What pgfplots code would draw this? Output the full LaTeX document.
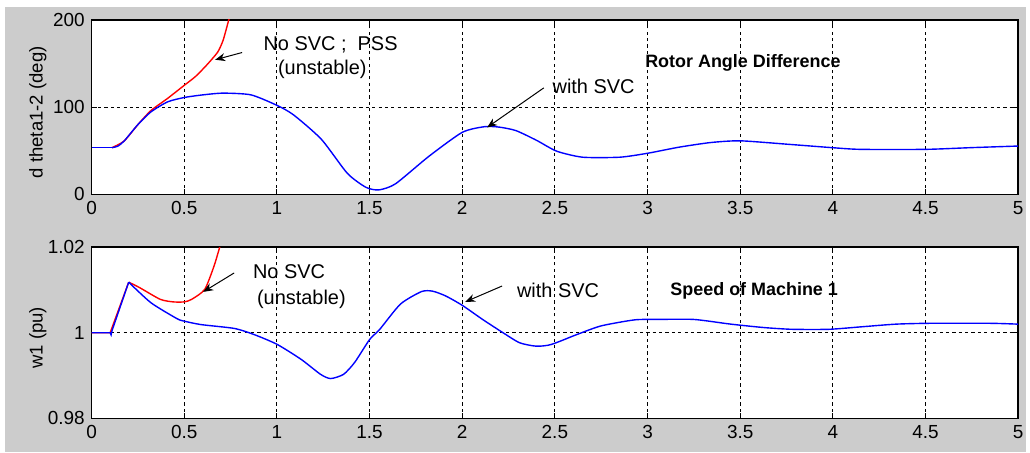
\documentclass[border=0pt]{standalone}
\usepackage{fontspec}
\setmainfont{Liberation Sans}
\usepackage{pgfplots}
\pgfplotsset{compat=1.18}
\usetikzlibrary{arrows.meta}

\definecolor{figgray}{RGB}{204,204,204}

\pgfplotsset{
  matfig/.style={
    scale only axis,
    width=465pt,
    xmin=0, xmax=5,
    xtick={0,0.5,...,5},
    xticklabels={0,0.5,1,1.5,2,2.5,3,3.5,4,4.5,5},
    tick align=inside,
    xtick pos=both, ytick pos=both,
    major tick length=2.5pt,
    tick style={black, line width=0.5pt},
    axis line style={black, line width=0.7pt},
    axis background/.style={fill=white},
    grid=major,
    major grid style={black, line width=0.5pt, dash pattern=on 1.6pt off 1.6pt},
    tick label style={font=\fontsize{9.5}{10}\selectfont},
    /pgf/number format/assume math mode=true,
    every axis y label/.style={at={(axis description cs:-0.058,0.47)}, rotate=90, anchor=center, font=\fontsize{9.3}{10}\selectfont},
    every node/.append style={font=\fontsize{9}{10}\selectfont},
    clip=true,
  },
  svc/.style={blue, line width=0.7pt, mark=none},
  nosvc/.style={red, line width=0.7pt, mark=none},
}

\begin{document}
\begin{tikzpicture}
% figure background (MATLAB grey), white strip at top and left
\fill[white] (0pt,0pt) rectangle (515pt,227pt);
\fill[figgray] (2.5pt,0pt) rectangle (515pt,223.5pt);

% ---------- top: rotor angle difference ----------
\begin{axis}[
  matfig,
  at={(46pt,129.5pt)}, anchor=south west,
  height=87.5pt,
  ymin=0, ymax=200,
  ytick={0,100,200},
  ylabel={d theta1-2 (deg)},
]
\addplot[nosvc, smooth, tension=0.4] coordinates {
(0.11,53.5) (0.175,61) (0.25,80) (0.32,96) (0.41,110) (0.5,125)
(0.56,135) (0.62,148) (0.68,163) (0.71,177) (0.74,200) (0.75,206)
};
\addplot[svc] coordinates {(0,53.5) (0.11,53.5)};
\addplot[svc, smooth, tension=0.4] coordinates {
(0.11,53.5) (0.14,55) (0.175,61) (0.25,80) (0.32,94.5) (0.41,106)
(0.5,111) (0.6,114) (0.71,116) (0.86,114) (1.0,102) (1.09,91) (1.24,63)
(1.38,24) (1.48,8) (1.55,5) (1.64,12) (1.82,43.5) (2.0,71) (2.12,77.5)
(2.2,77) (2.29,73) (2.4,62) (2.51,49.4) (2.65,42.5) (2.85,42.5) (3.0,47)
(3.17,54) (3.34,59.3) (3.5,61.3) (3.76,57.3) (4.0,53.4) (4.15,51.5)
(4.5,51.5) (4.75,53.5) (5.0,55.3)
};
\node[anchor=west] at (axis cs:0.89,171) {No SVC ;\ \ PSS};
\node[anchor=west] at (axis cs:0.968,143) {(unstable)};
\draw[-{Stealth[length=5pt,width=4pt]}, line width=0.5pt] (axis cs:0.812,162.6) -- (axis cs:0.667,154.3);
\node[anchor=west] at (axis cs:2.45,123.4) {with SVC};
\draw[-{Stealth[length=5pt,width=4pt]}, line width=0.5pt] (axis cs:2.44,122) -- (axis cs:2.134,76.6);
\node[anchor=west, font=\fontsize{9}{10}\selectfont\bfseries] at (axis cs:2.95,150.9) {Rotor Angle Difference};
\end{axis}

% ---------- bottom: speed of machine 1 ----------
\begin{axis}[
  matfig,
  at={(46pt,17pt)}, anchor=south west,
  height=86pt,
  ymin=0.98, ymax=1.02,
  ytick={0.98,1,1.02},
  yticklabels={0.98,1,1.02},
  ylabel={w1 (pu)},
]
\addplot[nosvc] coordinates {(0,1.0) (0.1,1.0) (0.2,1.0118)};
\addplot[nosvc, smooth, tension=0.4] coordinates {
(0.2,1.0118) (0.26,1.0105) (0.37,1.0078) (0.44,1.0072)
(0.5,1.0072) (0.54,1.0078) (0.61,1.0101) (0.66,1.0155) (0.69,1.0198) (0.70,1.0212)
};
\addplot[svc] coordinates {(0,1.0) (0.1,1.0) (0.105,0.9995) (0.11,1.0005) (0.2,1.0118)};
\addplot[svc, smooth, tension=0.4] coordinates {
(0.2,1.0118) (0.32,1.007)
(0.46,1.0033) (0.5,1.0027) (0.59,1.0019) (0.77,1.001) (0.875,0.9996)
(1.0,0.9973) (1.13,0.9938) (1.235,0.9903) (1.29,0.9893) (1.36,0.9903)
(1.42,0.9931) (1.5,0.9984) (1.555,1.0008) (1.667,1.0067) (1.78,1.0096)
(1.84,1.0097) (1.91,1.0086) (2.0,1.0064) (2.11,1.0031) (2.22,1.0)
(2.31,0.99765) (2.40,0.99686) (2.48,0.99725) (2.62,0.9996) (2.75,1.0016)
(2.93,1.003) (3.05,1.0031) (3.25,1.0031) (3.45,1.002) (3.63,1.0012)
(3.78,1.0008) (3.98,1.0008) (4.16,1.0014) (4.34,1.002) (4.52,1.0022)
(4.85,1.0022) (5.0,1.002)
};
\node[anchor=west] at (axis cs:0.833,1.0142) {No SVC};
\node[anchor=west] at (axis cs:0.855,1.0079) {(unstable)};
\draw[-{Stealth[length=5pt,width=4pt]}, line width=0.5pt] (axis cs:0.769,1.01395) -- (axis cs:0.602,1.00953);
\node[anchor=west] at (axis cs:2.258,1.00977) {with SVC};
\draw[-{Stealth[length=5pt,width=4pt]}, line width=0.5pt] (axis cs:2.215,1.0109) -- (axis cs:2.016,1.0072);
\node[anchor=west, font=\fontsize{9}{10}\selectfont\bfseries] at (axis cs:3.086,1.0098) {Speed of Machine 1};
\end{axis}
\end{tikzpicture}
\end{document}
